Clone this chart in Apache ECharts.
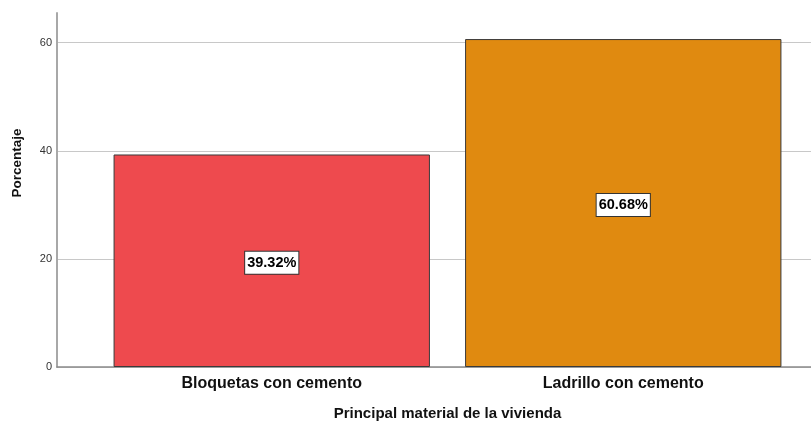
<!DOCTYPE html>
<html>
<head>
<meta charset="utf-8">
<script src="https://cdn.jsdelivr.net/npm/echarts@6/dist/echarts.min.js"></script>
<style>
  html, body { margin: 0; padding: 0; background: #fff; }
  #chart { width: 811px; height: 423px; }
</style>
</head>
<body>
<div id="chart"></div>
<script>
// Housing material shares (percent)
const categories = ['Bloquetas con cemento', 'Ladrillo con cemento'];
const percentages = [39.32, 60.68];
const barColors = ['#ee4a4e', '#e08a10'];
const yTicks = [0, 20, 40, 60];

const FONT = '"Liberation Sans", Arial, sans-serif';
const Y_MAX = 65.5;

const chart = echarts.init(document.getElementById('chart'), null, { renderer: 'canvas' });

chart.setOption({
  animation: false,
  backgroundColor: '#ffffff',
  grid: [
    // frame grid: y axis, gridlines, baseline
    { left: 57, right: 0, top: 13, bottom: 56, outerBoundsMode: 'none', containLabel: false },
    // bar grid: inset so the bars sit inside the frame
    { left: 96, right: 12, top: 13, bottom: 56, outerBoundsMode: 'none', containLabel: false }
  ],
  xAxis: [
    {
      gridIndex: 0, type: 'value', min: 0, max: 1,
      axisLine: { show: true, onZero: false, lineStyle: { color: '#8a8a8a', width: 1.5 } },
      axisTick: { show: false }, axisLabel: { show: false }, splitLine: { show: false }
    },
    {
      gridIndex: 1, type: 'category', data: categories,
      axisLine: { show: false }, axisTick: { show: false },
      axisLabel: { margin: 9, fontFamily: FONT, fontSize: 16, fontWeight: 'bold', color: '#111' },
      name: 'Principal material de la vivienda',
      nameLocation: 'middle', nameGap: 39,
      nameTextStyle: { fontFamily: FONT, fontSize: 15, fontWeight: 'bold', color: '#111' }
    }
  ],
  yAxis: [
    {
      gridIndex: 0, type: 'value', min: 0, max: Y_MAX, interval: 20,
      axisLine: { show: true, lineStyle: { color: '#a8a8a8', width: 2 } },
      axisTick: { show: false },
      axisLabel: {
        showMaxLabel: false, margin: 5, fontFamily: FONT, fontSize: 11, color: '#333',
        formatter: v => (yTicks.includes(v) ? String(v) : '')
      },
      splitLine: {
        show: true,
        lineStyle: { color: ['#c8c8c8', '#c8c8c8', '#c8c8c8', '#c8c8c8', 'rgba(0,0,0,0)'], width: 1 }
      },
      name: 'Porcentaje', nameLocation: 'middle', nameGap: 33, nameRotate: 90,
      nameTextStyle: {
        fontFamily: FONT, fontSize: 13.5, fontWeight: 'bold', color: '#111',
        padding: [0, 0, 0, 54]
      }
    },
    {
      gridIndex: 1, type: 'value', min: 0, max: Y_MAX,
      show: false, splitLine: { show: false }
    }
  ],
  series: [
    {
      type: 'bar',
      xAxisIndex: 1, yAxisIndex: 1,
      barWidth: '90%',
      data: percentages.map((v, i) => ({
        value: v,
        itemStyle: { color: barColors[i], borderColor: '#3a3a3a', borderWidth: 1 }
      })),
      label: {
        show: true, position: 'inside', offset: [0, 2],
        formatter: p => p.value.toFixed(2) + '%',
        fontFamily: FONT, fontSize: 14.5, fontWeight: 'bold', color: '#000',
        backgroundColor: '#fff', borderColor: '#333', borderWidth: 1,
        padding: [4, 2, 3, 2]
      }
    }
  ]
});
</script>
</body>
</html>
